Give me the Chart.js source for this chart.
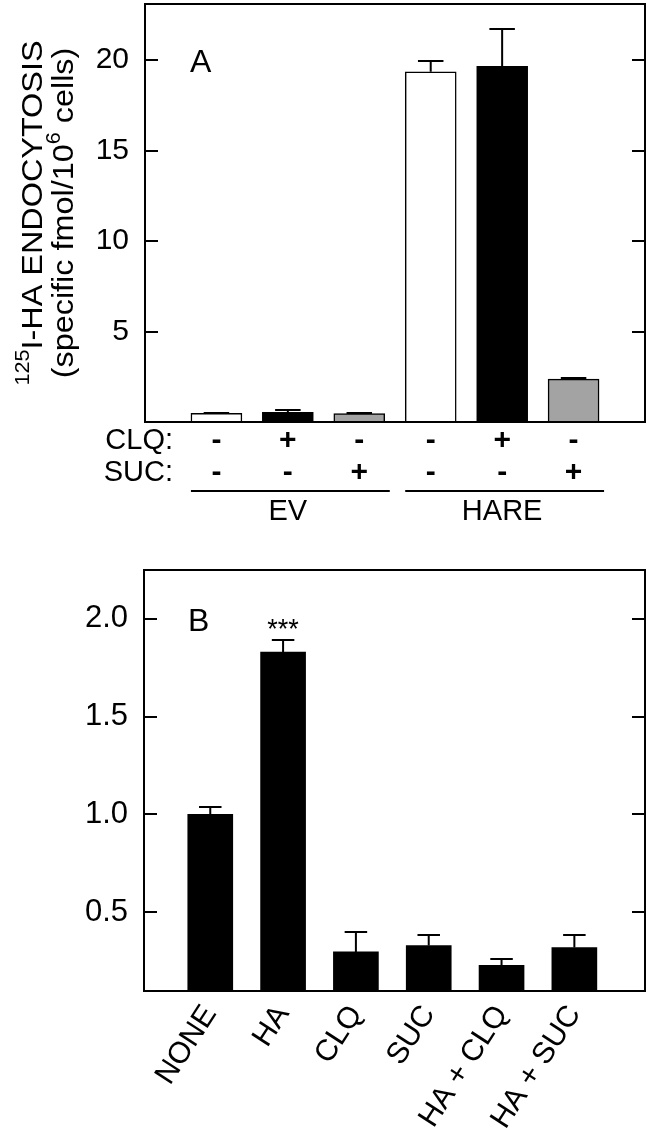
<!DOCTYPE html>
<html>
<head>
<meta charset="utf-8">
<script src="https://cdn.jsdelivr.net/npm/chart.js@4.4.0/dist/chart.umd.min.js"></script>
<style>
  body { margin: 0; background: #fff; }
  #wrapA { position: absolute; left: 0; top: 0; width: 650px; height: 540px; }
  #wrapB { position: absolute; left: 0; top: 540px; width: 650px; height: 588px; }
</style>
</head>
<body>
<div id="wrapA"><canvas id="chartA"></canvas></div>
<div id="wrapB"><canvas id="chartB"></canvas></div>
<script>
const FONT = "'Liberation Sans', Arial, Helvetica, sans-serif";

// panel A data
const clqRow = ["-", "+", "-", "-", "+", "-"];
const sucRow = ["-", "-", "+", "-", "-", "+"];
const groups = ["EV", "HARE"];
const endocytosis = [0.48, 0.53, 0.46, 19.35, 19.65, 2.37];
const endocytosisErr = [0.02, 0.11, 0.02, 0.62, 2.05, 0.07];
const barColorsA = ["#ffffff", "#000000", "#a3a3a3", "#ffffff", "#000000", "#a3a3a3"];
const yTicksA = [5, 10, 15, 20];

// panel B data
const treatments = ["NONE", "HA", "CLQ", "SUC", "HA + CLQ", "HA + SUC"];
const luc = [1.0, 1.83, 0.296, 0.329, 0.227, 0.318];
const lucErr = [0.035, 0.064, 0.102, 0.054, 0.031, 0.063];
const yTicksB = [0.5, 1.0, 1.5, 2.0];

// box around the plot, ticks pointing inward on both sides
const framePlugin = {
  id: "frame",
  afterDraw(chart) {
    const { ctx, chartArea: a } = chart;
    const y = chart.scales.y;
    ctx.save();
    ctx.strokeStyle = "#000";
    ctx.lineWidth = 2;
    ctx.strokeRect(a.left, a.top, a.right - a.left, a.bottom - a.top);
    y.ticks.forEach(t => {
      const py = Math.round(y.getPixelForValue(t.value));
      ctx.beginPath();
      ctx.moveTo(a.left, py);
      ctx.lineTo(a.left + 13, py);
      ctx.moveTo(a.right, py);
      ctx.lineTo(a.right - 13, py);
      ctx.stroke();
    });
    ctx.restore();
  }
};

// upper error bars only
const errorBars = {
  id: "errorBars",
  afterDatasetsDraw(chart, args, opts) {
    const { ctx } = chart;
    const y = chart.scales.y;
    const ds = chart.data.datasets[0];
    ctx.save();
    ctx.strokeStyle = "#000";
    ctx.lineWidth = 2;
    chart.getDatasetMeta(0).data.forEach((bar, i) => {
      const top = Math.round(y.getPixelForValue(ds.data[i].y + opts.errors[i]));
      const half = bar.width / 4;
      ctx.beginPath();
      ctx.moveTo(bar.x, bar.y);
      ctx.lineTo(bar.x, top);
      ctx.moveTo(bar.x - half, top);
      ctx.lineTo(bar.x + half, top);
      ctx.stroke();
    });
    ctx.restore();
  }
};

// rotated y title with superscripts; each line is a list of [text, isSup]
function drawTitle(ctx, lines, baseXs, cy, size, stretch) {
  const fontFor = sup => (sup ? Math.round(size * 0.68) : size) + "px " + FONT;
  ctx.save();
  ctx.fillStyle = "#000";
  ctx.textBaseline = "alphabetic";
  ctx.textAlign = "left";
  lines.forEach((parts, li) => {
    let w = 0;
    parts.forEach(([t, sup]) => {
      ctx.font = fontFor(sup);
      w += ctx.measureText(t).width;
    });
    ctx.save();
    ctx.translate(baseXs[li], cy);
    ctx.rotate(-Math.PI / 2);
    ctx.scale(stretch, 1);
    let x = -w / 2;
    parts.forEach(([t, sup]) => {
      ctx.font = fontFor(sup);
      ctx.fillText(t, x, sup ? -size * 0.42 : 0);
      x += ctx.measureText(t).width;
    });
    ctx.restore();
  });
  ctx.restore();
}

const panelA = {
  id: "panelA",
  afterDraw(chart) {
    const { ctx, chartArea: a } = chart;
    const bars = chart.getDatasetMeta(0).data;
    ctx.save();
    ctx.fillStyle = "#000";
    ctx.strokeStyle = "#000";
    ctx.font = "32px " + FONT;
    ctx.textBaseline = "alphabetic";
    ctx.textAlign = "left";
    ctx.fillText("A", a.left + 45, a.top + 68);

    ctx.textBaseline = "middle";
    ctx.textAlign = "right";
    ctx.font = "29px " + FONT;
    ctx.fillText("CLQ:", 173, a.bottom + 19);
    ctx.fillText("SUC:", 173, a.bottom + 51);
    ctx.textAlign = "center";
    ctx.font = "bold 30px " + FONT;
    bars.forEach((b, i) => {
      ctx.fillText(clqRow[i], b.x, a.bottom + 19);
      ctx.fillText(sucRow[i], b.x, a.bottom + 51);
    });

    const per = bars.length / groups.length;
    ctx.lineWidth = 2;
    ctx.font = "29px " + FONT;
    groups.forEach((g, gi) => {
      const first = bars[gi * per], last = bars[gi * per + per - 1];
      const x0 = first.x - first.width / 2, x1 = last.x + last.width / 2 + 5;
      ctx.beginPath();
      ctx.moveTo(x0, a.bottom + 69);
      ctx.lineTo(x1, a.bottom + 69);
      ctx.stroke();
      ctx.fillText(g, bars[gi * per + Math.floor(per / 2)].x, a.bottom + 90);
    });
    ctx.restore();

    drawTitle(ctx, [
      [["125", true], ["I-HA ENDOCYTOSIS", false]],
      [["(specific fmol/10", false], ["6", true], [" cells)", false]]
    ], [42, 73], 213, 30, 1.08);
  }
};

const panelB = {
  id: "panelB",
  afterDraw(chart) {
    const { ctx, chartArea: a } = chart;
    const y = chart.scales.y;
    const bars = chart.getDatasetMeta(0).data;
    ctx.save();
    ctx.fillStyle = "#000";
    ctx.font = "32px " + FONT;
    ctx.textBaseline = "alphabetic";
    ctx.textAlign = "left";
    ctx.fillText("B", a.left + 44, a.top + 61);
    const hi = luc.indexOf(Math.max(...luc));
    ctx.textAlign = "center";
    ctx.font = "27px " + FONT;
    ctx.fillText("***", bars[hi].x, y.getPixelForValue(luc[hi] + lucErr[hi]) - 2);
    ctx.restore();

    drawTitle(ctx, [
      [["FIREFLY:RENILLA LUC", false]],
      [["ACTIVITY (fold-change)", false]]
    ], [26, 64], 792, 31, 1.02);
  }
};

const hidden = { display: false, drawTicks: false };
const noPadY = s => { s.paddingTop = 0; s.paddingBottom = 0; };
const noPadX = s => { s.paddingLeft = 0; s.paddingRight = 0; };

new Chart(document.getElementById("chartA"), {
  type: "bar",
  data: {
    datasets: [{
      data: endocytosis.map((v, i) => ({ x: i + 1, y: v })),
      backgroundColor: barColorsA,
      borderColor: "#000",
      borderWidth: 1.5,
      barThickness: 51
    }]
  },
  options: {
    responsive: true,
    maintainAspectRatio: false,
    animation: false,
    layout: { padding: { top: 4, right: 5, left: 0, bottom: 0 } },
    plugins: {
      legend: { display: false },
      tooltip: { enabled: false },
      errorBars: { errors: endocytosisErr }
    },
    scales: {
      x: {
        type: "linear",
        min: 0,
        max: 7,
        offset: false,
        grid: hidden,
        border: { display: false },
        ticks: { display: false },
        afterBuildTicks: s => { s.ticks = endocytosis.map((v, i) => ({ value: i + 1 })); },
        afterFit: s => { s.height = 118; noPadX(s); }
      },
      y: {
        min: 0,
        max: 23.1,
        grid: hidden,
        border: { display: false },
        ticks: { color: "#000", font: { family: FONT, size: 30 }, padding: 16, callback: v => String(v) },
        afterBuildTicks: s => { s.ticks = yTicksA.map(v => ({ value: v })); },
        afterFit: s => { s.width = 145; noPadY(s); }
      }
    }
  },
  plugins: [errorBars, framePlugin, panelA]
});

new Chart(document.getElementById("chartB"), {
  type: "bar",
  data: {
    datasets: [{
      data: luc.map((v, i) => ({ x: i + 1, y: v })),
      backgroundColor: "#000",
      barThickness: 45
    }]
  },
  options: {
    responsive: true,
    maintainAspectRatio: false,
    animation: false,
    layout: { padding: { top: 30, right: 5, left: 0, bottom: 0 } },
    plugins: {
      legend: { display: false },
      tooltip: { enabled: false },
      errorBars: { errors: lucErr }
    },
    scales: {
      x: {
        type: "linear",
        min: 0.09,
        max: 6.97,
        offset: false,
        grid: hidden,
        border: { display: false },
        ticks: {
          color: "#000",
          font: { family: FONT, size: 30 },
          minRotation: 57,
          maxRotation: 57,
          autoSkip: false,
          padding: 8,
          callback: v => treatments[Math.round(v) - 1]
        },
        afterBuildTicks: s => { s.ticks = luc.map((v, i) => ({ value: i + 1 })); },
        afterFit: s => { s.height = 137; noPadX(s); }
      },
      y: {
        min: 0.096,
        max: 2.25,
        grid: hidden,
        border: { display: false },
        ticks: { color: "#000", font: { family: FONT, size: 31 }, padding: 16, callback: v => v.toFixed(1) },
        afterBuildTicks: s => { s.ticks = yTicksB.map(v => ({ value: v })); },
        afterFit: s => { s.width = 144; noPadY(s); }
      }
    }
  },
  plugins: [errorBars, framePlugin, panelB]
});
</script>
</body>
</html>
